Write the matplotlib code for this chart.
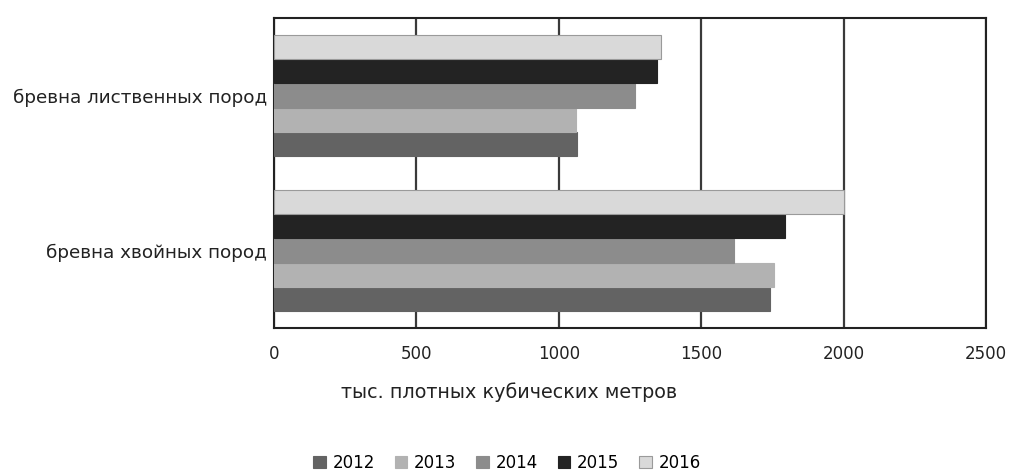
import matplotlib.pyplot as plt
import numpy as np

plt.rcParams['font.family'] = ['DejaVu Sans']

categories = ["бревна хвойных пород", "бревна лиственных пород"]
years = ["2012", "2013", "2014", "2015", "2016"]
values = {
    "2012": [1743, 1064],
    "2013": [1757, 1062],
    "2014": [1616, 1268],
    "2015": [1793, 1346],
    "2016": [2000, 1359],
}
colors = ["#636363", "#b2b2b2", "#8c8c8c", "#232323", "#d9d9d9"]

fig = plt.figure(figsize=(10.14, 4.73), dpi=100)
ax = fig.add_axes([274 / 1014, 1 - 328 / 473, 712 / 1014, 310 / 473])

y = np.arange(len(categories))
h = 0.156
for i, yr in enumerate(years):
    ax.barh(y + (i - 2) * h, values[yr], height=h, color=colors[i],
            edgecolor="#9a9a9a" if yr == "2016" else colors[i], linewidth=0.8,
            label=yr, zorder=3)

ax.set_xlim(0, 2500)
ax.set_ylim(-0.5, 1.5)
ax.set_xticks([0, 500, 1000, 1500, 2000, 2500])
ax.set_yticks(y)
ax.set_yticklabels(categories, fontsize=13.2, color="#222222")
ax.tick_params(axis="x", labelsize=12, length=0, pad=12, labelcolor="#222222")
ax.tick_params(axis="y", length=0, pad=5)
ax.grid(axis="x", color="#3a3a3a", linewidth=1.6, zorder=1)
for s in ax.spines.values():
    s.set_color("#222222")
    s.set_linewidth(1.5)

# axis title sits centred on the figure, not on the axes
fig.text(509 / 1014, 1 - 392 / 473, "тыс. плотных кубических метров",
         fontsize=13.8, ha="center", va="center", color="#222222")

handles, labels = ax.get_legend_handles_labels()
fig.legend(handles, labels, loc="center", bbox_to_anchor=(507 / 1014, 1 - 463 / 473),
           ncol=5, frameon=False, fontsize=12, handlelength=0.75, handleheight=0.75,
           handletextpad=0.4, columnspacing=1.2)

fig.savefig("out.png", dpi=100)
